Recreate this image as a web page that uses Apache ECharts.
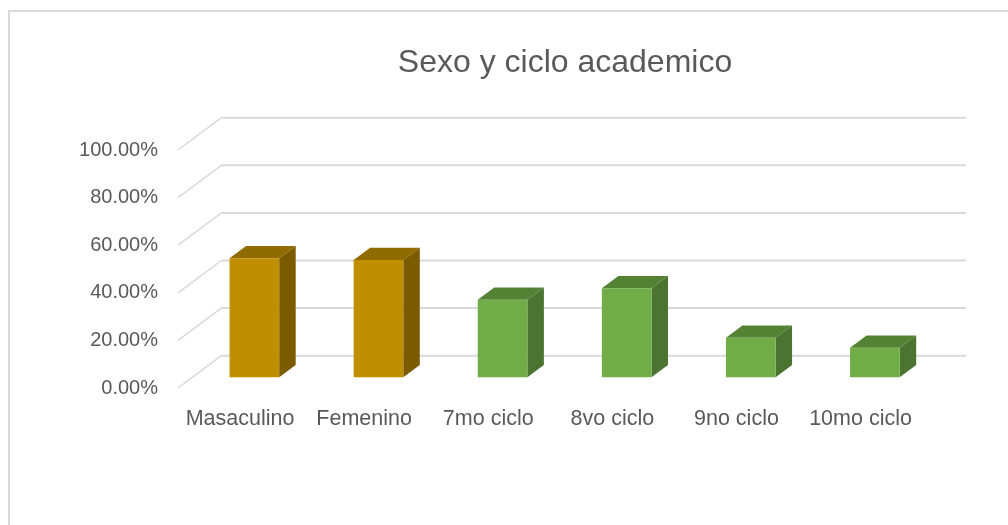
<!DOCTYPE html>
<html>
<head>
<meta charset="utf-8">
<title>Sexo y ciclo academico</title>
<script src="https://cdn.jsdelivr.net/npm/echarts@6/dist/echarts.min.js"></script>
<style>
html,body{margin:0;padding:0;background:#fff;}
#main{width:1008px;height:525px;}
</style>
</head>
<body>
<div id="main"></div>
<script>
//数据
var categories = ['Masaculino', 'Femenino', '7mo ciclo', '8vo ciclo', '9no ciclo', '10mo ciclo'];
var values = [0.500, 0.493, 0.326, 0.374, 0.166, 0.124];
var grupos = [0, 0, 1, 1, 1, 1]; // 0 = sexo, 1 = ciclo
var yTicks = [0, 0.2, 0.4, 0.6, 0.8, 1];

//颜色：正面、顶面、侧面
var colores = [
	{front: '#BF8F00', top: '#8F6B00', side: '#7A5B00'},
	{front: '#70AD47', top: '#548235', side: '#4A7430'}
];
//3D 景深偏移
var depthX = 43.4, depthY = -32.3;
var barFront = 0.33, barBack = 0.71;
var fontFam = "'Liberation Sans', Arial, sans-serif";

var chart = echarts.init(document.getElementById('main'));

//背景网格线 + 左侧斜线
function renderGrid(params, api){
	var cs = params.coordSys;
	var y = api.coord([0, api.value(1)])[1];
	var x0 = cs.x, x1 = cs.x + cs.width;
	return {type: 'group', children: [
		{type: 'line', shape: {x1: x0, y1: y, x2: x0 + depthX, y2: y + depthY}, style: {stroke: '#d9d9d9', lineWidth: 1.5}},
		{type: 'line', shape: {x1: x0 + depthX, y1: y + depthY, x2: x1 + depthX, y2: y + depthY}, style: {stroke: '#d9d9d9', lineWidth: 2}}
	]};
}

//3D 柱子
function renderBar(params, api){
	var idx = api.value(0);
	var base = api.coord([idx, 0]);
	var top = api.coord([idx, api.value(1)]);
	var w = api.size([1, 0])[0] * 0.4;
	var c = colores[grupos[params.dataIndex]];
	var fx = depthX * barFront, fy = depthY * barFront;
	var dx = depthX * (barBack - barFront), dy = depthY * (barBack - barFront);
	var l = base[0] - w / 2 + fx, r = base[0] + w / 2 + fx;
	var t = top[1] + fy, b = base[1] + fy;
	return {type: 'group', children: [
		{type: 'polygon', shape: {points: [[r, t], [r + dx, t + dy], [r + dx, b + dy], [r, b]]}, style: {fill: c.side}},
		{type: 'polygon', shape: {points: [[l, t], [r, t], [r + dx, t + dy], [l + dx, t + dy]]}, style: {fill: c.top}},
		{type: 'rect', shape: {x: l, y: t, width: w, height: b - t}, style: {fill: c.front}}
	]};
}

var option = {
	animation: false,
	backgroundColor: '#fff',
	title: {
		text: 'Sexo y ciclo academico',
		left: 560,
		top: 42,
		textAlign: 'center',
		textStyle: {fontFamily: fontFam, fontSize: 32, fontWeight: 'normal', color: '#595959'}
	},
	graphic: [{
		type: 'rect',
		shape: {x: 9, y: 11, width: 1100, height: 600},
		style: {fill: 'none', stroke: '#d9d9d9', lineWidth: 2},
		silent: true
	}],
	grid: {left: 178, right: 85.4, top: 150, bottom: 137},
	xAxis: {
		type: 'category',
		data: categories,
		axisLine: {show: false},
		axisTick: {show: false},
		axisLabel: {interval: 0, fontFamily: fontFam, fontSize: 21.5, color: '#595959', margin: 20}
	},
	yAxis: {
		type: 'value',
		min: 0,
		max: 1,
		interval: 0.2,
		axisLine: {show: false},
		axisTick: {show: false},
		splitLine: {show: false},
		axisLabel: {
			fontFamily: fontFam, fontSize: 20, color: '#595959', margin: 20,
			formatter: function(v){ return (v * 100).toFixed(2) + '%'; }
		}
	},
	series: [{
		type: 'custom',
		renderItem: renderGrid,
		data: yTicks.map(function(v){ return [0, v]; }),
		z: 1,
		silent: true
	}, {
		type: 'custom',
		renderItem: renderBar,
		data: values.map(function(v, i){ return [i, v]; }),
		z: 2
	}]
};
chart.setOption(option);
</script>
</body>
</html>
